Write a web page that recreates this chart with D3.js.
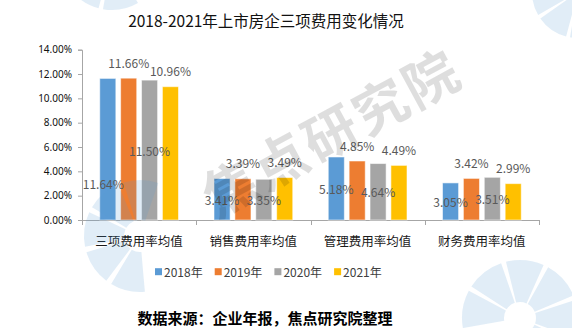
<!DOCTYPE html>
<html>
<head>
<meta charset="utf-8">
<script src="https://cdn.jsdelivr.net/npm/d3@7"></script>
<style>
  html, body { margin: 0; padding: 0; background: #fff; }
  svg { display: block; font-family: "Noto Sans CJK SC", "Noto Sans", sans-serif; }
</style>
</head>
<body>
<svg id="chart" width="572" height="328"></svg>
<script>
// Expense-ratio averages of listed developers, by item and year
const categories = ["三项费用率均值", "销售费用率均值", "管理费用率均值", "财务费用率均值"];
const years = ["2018年", "2019年", "2020年", "2021年"];
const values2018 = [0.1164, 0.0341, 0.0518, 0.0305];
const values2019 = [0.1166, 0.0339, 0.0485, 0.0342];
const values2020 = [0.1150, 0.0335, 0.0464, 0.0351];
const values2021 = [0.1096, 0.0349, 0.0449, 0.0299];
const yTicks = [0, 0.02, 0.04, 0.06, 0.08, 0.10, 0.12, 0.14];
const seriesColors = ["#5B9BD5", "#ED7D31", "#A5A5A5", "#FFC000"];
const seriesValues = [values2018, values2019, values2020, values2021];

// label placement per series: centred inside the bar, or above its end
const labelPlacement = ["inside", "outside", "inside", "outside"];

const svg = d3.select("#chart");
const plot = { left: 82, right: 539, top: 49.7, bottom: 220 };

const y = d3.scaleLinear().domain([0, 0.14]).range([plot.bottom, plot.top]);
const x0 = d3.scaleBand().domain(categories).range([plot.left, plot.right]).padding(0);
const x1 = d3.scaleBand().domain(years).range([0, x0.bandwidth()])
  .paddingInner(0.23).paddingOuter(0.85);

const rows = [];
categories.forEach((c, ci) => {
  years.forEach((yr, si) => {
    rows.push({ category: c, year: yr, si, value: seriesValues[si][ci] });
  });
});

// segmented wheel emblem used by the brand watermark
function wheel(parent, cx, cy, r0, r1, startDeg, count, spanDeg, gapDeg) {
  const arc = d3.arc().innerRadius(r0).outerRadius(r1);
  const g = parent.append("g").attr("transform", `translate(${cx},${cy})`);
  for (let i = 0; i < count; i++) {
    const a0 = (startDeg + i * (spanDeg + gapDeg)) * Math.PI / 180;
    const a1 = a0 + spanDeg * Math.PI / 180;
    g.append("path").attr("d", arc({ startAngle: a0, endAngle: a1 }))
      .attr("fill", "#5b9bd5").attr("fill-opacity", 0.18);
  }
}

// title
svg.append("text")
  .attr("x", 266).attr("y", 20)
  .attr("text-anchor", "middle").attr("dominant-baseline", "central")
  .attr("font-size", 15.5).attr("fill", "#111")
  .text("2018-2021年上市房企三项费用变化情况");

// y axis
const yAxis = d3.axisLeft(y).tickValues(yTicks).tickFormat(d3.format(".2%"))
  .tickSize(4).tickPadding(6);
const gy = svg.append("g").attr("transform", `translate(${plot.left},0)`).call(yAxis);
gy.select(".domain").attr("stroke", "#a6a6a6");
gy.selectAll(".tick line").attr("stroke", "#a6a6a6");
gy.selectAll(".tick text").attr("font-size", 10).attr("fill", "#111")
  .attr("font-family", "'Noto Sans', sans-serif");

// x axis with tick marks at category boundaries
const xAxisLine = svg.append("g");
xAxisLine.append("line")
  .attr("x1", plot.left).attr("x2", plot.right)
  .attr("y1", plot.bottom + 0.5).attr("y2", plot.bottom + 0.5)
  .attr("stroke", "#a6a6a6");
const boundaries = categories.map(c => x0(c)).concat([x0(categories[categories.length - 1]) + x0.bandwidth()]);
xAxisLine.selectAll("line.tk").data(boundaries).enter().append("line")
  .attr("class", "tk")
  .attr("x1", d => Math.round(d) + 0.5).attr("x2", d => Math.round(d) + 0.5)
  .attr("y1", plot.bottom).attr("y2", plot.bottom + 5)
  .attr("stroke", "#a6a6a6");
svg.append("g").selectAll("text").data(categories).enter().append("text")
  .attr("x", d => x0(d) + x0.bandwidth() / 2)
  .attr("y", 240.7)
  .attr("text-anchor", "middle").attr("dominant-baseline", "central")
  .attr("font-size", 12.5).attr("fill", "#1a1a1a")
  .text(d => d);

// bars
svg.append("g").selectAll("rect").data(rows).enter().append("rect")
  .attr("x", d => x0(d.category) + x1(d.year))
  .attr("y", d => y(d.value))
  .attr("width", x1.bandwidth())
  .attr("height", d => y(0) - y(d.value))
  .attr("fill", d => seriesColors[d.si])
  .attr("stroke", "#fff").attr("stroke-opacity", 0.55).attr("stroke-width", 1);

// value labels
const labelNudge = { "三项费用率均值|2018年": { dx: -4.5, dy: 34.7 } };
svg.append("g").selectAll("text").data(rows).enter().append("text")
  .attr("x", d => {
    const n = labelNudge[d.category + "|" + d.year];
    return x0(d.category) + x1(d.year) + x1.bandwidth() / 2 + (n ? n.dx : 0);
  })
  .attr("y", d => {
    const n = labelNudge[d.category + "|" + d.year];
    const base = labelPlacement[d.si] === "inside" ? y(d.value / 2) : y(d.value) - 16;
    return base + (n ? n.dy : 0);
  })
  .attr("text-anchor", "middle").attr("dominant-baseline", "central")
  .attr("font-size", 12).attr("fill", "#595959")
  .text(d => d3.format(".2%")(d.value));

// legend
const legend = svg.append("g").selectAll("g").data(years).enter().append("g")
  .attr("transform", (d, i) => `translate(${155 + i * 59.7},271.7)`);
legend.append("rect").attr("x", 0).attr("y", -3.5).attr("width", 7).attr("height", 7)
  .attr("fill", (d, i) => seriesColors[i]);
legend.append("text").attr("x", 9).attr("y", 0)
  .attr("dominant-baseline", "central").attr("font-size", 12).attr("fill", "#404040")
  .text(d => d);

// source note
svg.append("text")
  .attr("x", 265).attr("y", 317)
  .attr("text-anchor", "middle").attr("dominant-baseline", "central")
  .attr("font-size", 15).attr("font-weight", "bold").attr("fill", "#000")
  .text("数据来源：企业年报，焦点研究院整理");

// watermark overlay: wheels and tilted brand text
const wm = svg.append("g").attr("pointer-events", "none");
wheel(wm, 140, 236, 16, 56, 175, 5, 36, 6);
wheel(wm, 520, 318, 16, 58, -100, 6, 38, 5);
wheel(wm, 578, -8, 10, 46, 150, 3, 40, 5);
wheel(wm, 112, -42, 10, 52, 150, 3, 40, 5);

wm.append("text")
  .attr("transform", "translate(330,130) rotate(-28.5)")
  .attr("text-anchor", "middle").attr("dominant-baseline", "central")
  .attr("font-size", 54).attr("font-weight", "bold")
  .attr("letter-spacing", 3)
  .attr("fill", "#000").attr("fill-opacity", 0.13)
  .text("焦点研究院");
</script>
</body>
</html>
